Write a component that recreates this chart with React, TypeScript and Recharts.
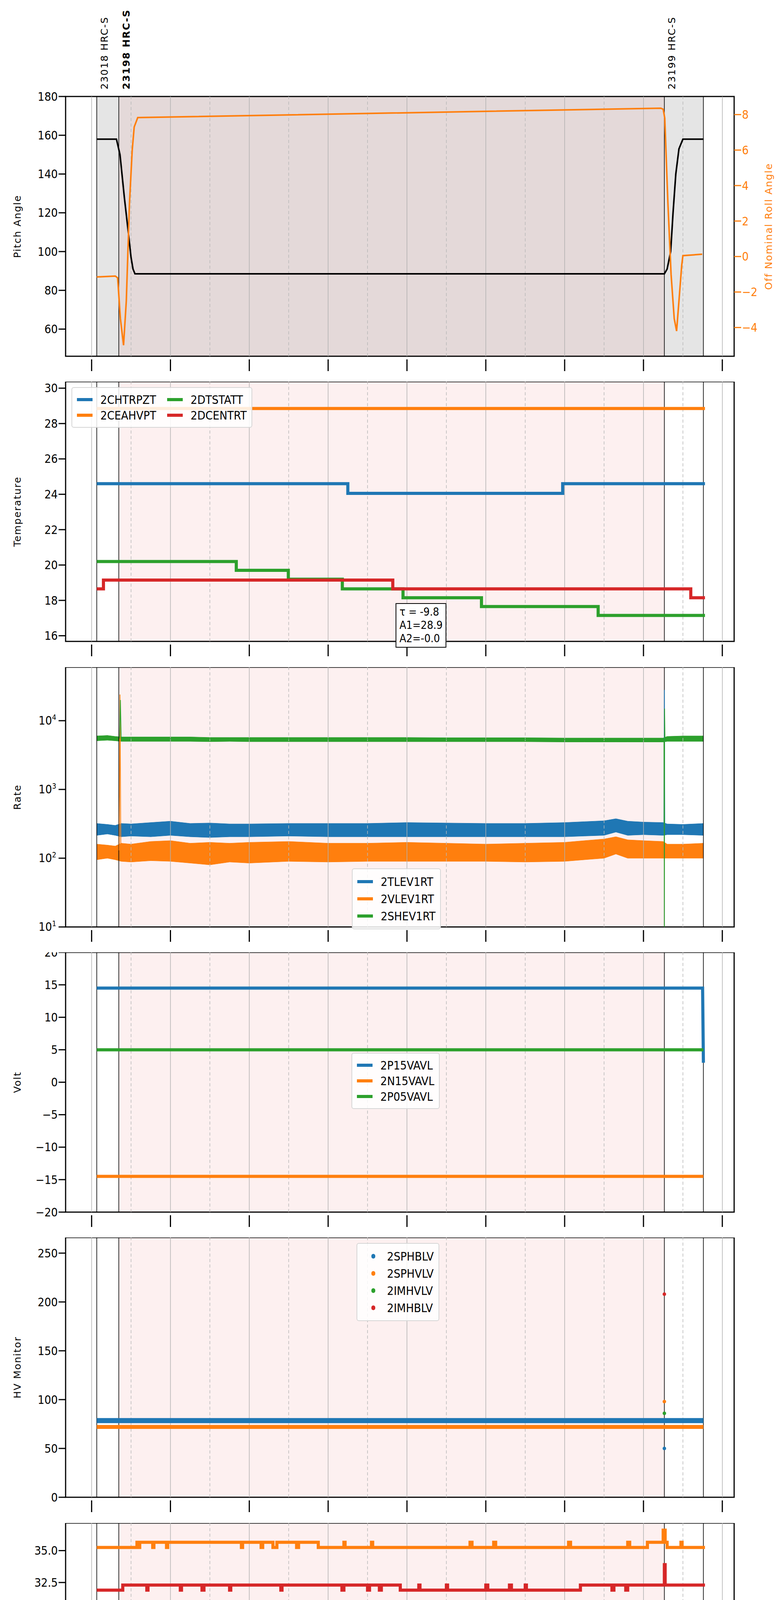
import React from 'react';
import {
  ComposedChart,
  Line,
  Area,
  Scatter,
  XAxis,
  YAxis,
  ReferenceArea,
  ReferenceLine,
} from 'recharts';

// ---- time axis (hours of 2020-03-28) ----
const hourTicks = [8, 9, 10, 11, 12, 13, 14, 15, 16, 17, 18, 19, 20, 21, 22, 23, 24];
const obsEdges = [8.13, 8.69, 22.53, 23.52];
const obsLabels = ['23018 HRC-S', '23198 HRC-S', '23199 HRC-S'];

// ---- pitch / roll ----
const pitch = [[8.13, 158], [8.63, 158], [8.72, 150], [8.83, 128], [8.93, 110], [9.0, 97], [9.05, 91], [9.1, 88.5], [22.53, 88.5], [22.6, 91], [22.69, 100], [22.75, 120], [22.82, 140], [22.9, 153], [23.0, 158], [23.52, 158]];
const roll = [[8.13, -1.15], [8.6, -1.1], [8.66, -1.2], [8.73, -3.5], [8.81, -5.0], [8.88, -2.5], [8.96, 3.0], [9.03, 6.0], [9.08, 7.3], [9.17, 7.83], [22.44, 8.36], [22.5, 8.3], [22.54, 7.8], [22.62, 3.0], [22.7, -1.0], [22.78, -3.5], [22.84, -4.2], [22.9, -2.5], [22.97, -0.5], [23.0, 0.05], [23.49, 0.13]];

// ---- temperature ----
const chtrpzt = [[8.13, 24.6], [14.45, 24.6], [14.5, 24.05], [19.9, 24.05], [19.95, 24.6], [23.56, 24.6]];
const ceahvpt = [[8.13, 28.85], [23.56, 28.85]];
const dtstatt = [[8.13, 20.2], [11.67, 19.7], [12.99, 19.2], [14.36, 18.65], [15.9, 18.15], [17.89, 17.65], [20.85, 17.15], [23.56, 17.15]];
const dcentrt = [[8.13, 18.65], [8.3, 19.15], [15.64, 18.65], [23.2, 18.15], [23.56, 18.15]];

// ---- rates (noise band low / high) ----
const rateT = [8.13, 8.4, 8.6, 8.75, 9.0, 9.5, 10.0, 10.5, 11.0, 11.5, 12.0, 13.0, 14.0, 15.0, 16.0, 17.0, 18.0, 19.0, 20.0, 20.5, 21.0, 21.3, 21.6, 22.0, 22.5, 22.6, 23.0, 23.52];
const tlevLo = [215, 225, 215, 205, 210, 205, 215, 205, 200, 205, 205, 210, 205, 205, 205, 205, 205, 205, 205, 210, 215, 240, 215, 220, 215, 220, 220, 215];
const tlevHi = [320, 310, 300, 320, 315, 330, 345, 320, 325, 315, 315, 320, 320, 320, 330, 325, 320, 320, 330, 340, 350, 375, 345, 335, 330, 315, 310, 320];
const vlevLo = [95, 100, 95, 90, 88, 92, 90, 85, 80, 88, 85, 90, 88, 90, 90, 90, 90, 88, 90, 95, 100, 115, 100, 100, 100, 100, 100, 100];
const vlevHi = [160, 155, 150, 165, 160, 175, 180, 165, 170, 165, 170, 175, 165, 165, 170, 165, 160, 165, 170, 180, 190, 205, 185, 180, 175, 160, 160, 165];
const shevLo = [5100, 5200, 5100, 5000, 5000, 5000, 5000, 5000, 4950, 5000, 4950, 4950, 4950, 4950, 4950, 4950, 4950, 4950, 4900, 4900, 4900, 4900, 4900, 4900, 4900, 5000, 5000, 5000];
const shevHi = [6000, 6100, 5900, 5800, 5800, 5800, 5800, 5800, 5700, 5700, 5700, 5700, 5700, 5700, 5700, 5650, 5650, 5650, 5600, 5600, 5600, 5600, 5600, 5600, 5600, 5900, 6000, 6000];
const vlevSpike = [[8.7, 130], [8.72, 24000], [8.74, 150]];
const shevSpike = [[8.71, 5500], [8.73, 20000], [8.75, 5500], [22.52, 5300], [22.53, 10], [22.535, 15000], [22.545, 5500]];
const tlevSpike = [[22.52, 280], [22.53, 28000], [22.54, 260]];

// ---- voltages ----
const p15 = [[8.13, 14.5], [23.5, 14.5], [23.52, 3]];
const n15 = [[8.13, -14.5], [23.52, -14.5]];
const p05 = [[8.13, 5.0], [23.52, 5.0]];

// ---- HV monitor ----
const sphblv = [[8.13, 78.5], [23.52, 78.5]];
const sphvlv = [[8.13, 72], [23.52, 72]];
const hvOutliers = [
  { name: '2SPHBLV', pts: [[22.53, 50]] },
  { name: '2SPHVLV', pts: [[22.53, 98]] },
  { name: '2IMHVLV', pts: [[22.53, 86]] },
  { name: '2IMHBLV', pts: [[22.53, 208]] },
];

// ---- detector temps ----
const spinatm = [[8.13, 20.3], [22.52, 20.3], [22.53, 16.8], [22.54, 20.3], [23.56, 20.3]];
const sphvatm = [[8.13, 35.25], [9.15, 35.65], [9.18, 35.25], [9.22, 35.65], [9.55, 35.25], [9.58, 35.65], [9.9, 35.25], [9.93, 35.65], [11.8, 35.25], [11.83, 35.65], [12.3, 35.25], [12.34, 35.65], [12.6, 35.25], [12.7, 35.65], [13.2, 35.25], [13.25, 35.65], [13.75, 35.25], [14.4, 35.65], [14.43, 35.25], [15.1, 35.65], [15.13, 35.25], [17.6, 35.65], [17.65, 35.25], [18.2, 35.65], [18.25, 35.25], [20.1, 35.65], [20.15, 35.25], [21.6, 35.65], [21.65, 35.25], [22.1, 35.65], [22.5, 36.6], [22.55, 35.65], [22.6, 35.25], [22.95, 35.65], [22.98, 35.25], [23.56, 35.25]];
const imhvatm = [[8.13, 31.9], [8.79, 32.3], [9.4, 31.9], [9.43, 32.3], [10.25, 31.9], [10.28, 32.3], [10.8, 31.9], [10.85, 32.3], [11.5, 31.9], [11.53, 32.3], [12.8, 31.9], [12.83, 32.3], [14.35, 31.9], [14.4, 32.3], [15.0, 31.9], [15.05, 32.3], [15.3, 31.9], [15.35, 32.3], [15.83, 31.9], [16.3, 32.3], [16.33, 31.9], [17.0, 32.3], [17.03, 31.9], [18.0, 32.3], [18.05, 31.9], [18.6, 32.3], [18.65, 31.9], [19.0, 32.3], [19.03, 31.9], [20.4, 32.3], [21.2, 31.9], [21.25, 32.3], [21.55, 31.9], [21.6, 32.3], [22.52, 32.3], [22.53, 33.9], [22.55, 32.3], [23.56, 32.3]];
const iminatm = [[8.13, 17.65], [8.53, 18.3], [12.28, 18.9], [13.8, 18.3], [13.84, 18.9], [14.5, 18.3], [14.55, 18.9], [14.7, 18.3], [14.75, 18.9], [15.4, 18.3], [22.52, 18.3], [22.53, 16.8], [22.54, 18.3], [23.56, 18.3]];

// ---- FEA temps ----
const fhtrmzt = [[8.13, 23.45], [8.6, 22.9], [8.62, 23.45], [9.15, 21.2], [9.18, 23.45], [9.33, 22.85], [10.06, 22.35], [10.76, 21.8], [11.3, 23.5], [11.33, 21.8], [11.52, 21.25], [12.34, 20.7], [13.13, 20.2], [13.62, 17.6], [13.65, 20.2], [14.06, 19.65], [15.14, 19.15], [16.47, 18.65], [16.55, 17.6], [16.58, 18.65], [16.9, 17.1], [16.93, 18.65], [18.12, 18.15], [20.44, 17.65], [22.56, 16.2], [22.59, 17.65], [23.45, 18.15], [23.56, 18.15]];
const fradpyt = [[8.13, 19.15], [8.76, 19.7], [9.02, 19.15], [9.2, 18.65], [9.46, 18.15], [9.84, 17.65], [10.35, 17.15], [10.93, 16.65], [11.59, 16.15], [12.3, 15.7], [13.07, 15.2], [13.97, 14.75], [14.98, 14.3], [16.23, 13.85], [17.83, 13.4], [20.06, 12.95], [22.92, 13.4], [23.17, 13.85], [23.52, 14.3], [23.56, 14.3]];
const fepratm = [[8.13, 25.4], [10.25, 24.65], [11.35, 23.9], [12.33, 23.1], [12.36, 23.9], [12.53, 23.15], [13.78, 22.4], [15.37, 21.65], [17.36, 20.95], [20.4, 20.3], [20.43, 20.95], [20.62, 20.3], [21.12, 21.0], [21.15, 20.3], [23.56, 20.3]];
const fe00atm = [[8.13, 22.65], [8.85, 23.0], [8.9, 22.4], [9.0, 23.0], [9.1, 22.65], [9.35, 22.3], [9.4, 22.65], [9.68, 22.3], [9.72, 21.1], [9.76, 22.3], [10.18, 22.0], [10.69, 21.7], [10.7, 21.05], [10.74, 21.7], [11.26, 21.35], [11.6, 20.5], [11.63, 21.35], [11.84, 21.05], [12.41, 20.75], [13.02, 20.45], [13.5, 19.9], [13.55, 20.45], [13.8, 20.15], [14.44, 19.85], [15.0, 19.0], [15.05, 19.85], [15.2, 19.55], [16.22, 19.25], [16.5, 19.85], [16.55, 19.25], [17.17, 18.95], [18.4, 18.55], [18.45, 18.95], [18.69, 18.65], [19.7, 18.1], [19.73, 18.65], [20.44, 18.4], [21.1, 17.5], [21.13, 18.4], [21.6, 17.9], [21.63, 18.4], [22.52, 18.4], [22.53, 25.4], [22.55, 18.4], [23.45, 18.65], [23.56, 18.65]];

const C = { blue: '#1f77b4', orange: '#ff7f0e', green: '#2ca02c', red: '#d62728' };
const NARROW = '"DejaVu Sans Condensed", "Liberation Sans Narrow", "DejaVu Sans", sans-serif';
const WIDE = '"DejaVu Sans", sans-serif';
const X0 = 7.34;
const X1 = 24.3;
const PLOT_L = 168;
const PLOT_R = 1880;
const PLOT_H = 665;

const pts = (a: number[][]) => a.map(([t, v]) => ({ t, v }));
const band = (lo: number[], hi: number[]) => rateT.map((t, i) => ({ t, r: [lo[i], hi[i]] }));
const minus = (v: number) => (v < 0 ? `\u2212${-v}` : `${v}`);

const XTick = (props: any) => {
  const { x, y, payload, showLabels } = props;
  const h = payload.value;
  const major = h % 2 === 0;
  const lab = `${String(h % 24).padStart(2, '0')}h`;
  if (!major && !showLabels) return null;
  return (
    <g>
      <line x1={x} x2={x} y1={y} y2={y + (major ? 30 : 14)} stroke="#000" strokeWidth={major ? 3 : 2} />
      {showLabels && (
        <text x={x} y={y + (major ? 74 : 42)} textAnchor="middle" fontFamily={NARROW} fontSize={major ? 36 : 19}>
          {lab}
        </text>
      )}
    </g>
  );
};

const LogTick = (props: any) => {
  const { x, y, payload } = props;
  const e = Math.round(Math.log10(payload.value));
  return (
    <text x={x - 4} y={y + 10} textAnchor="end" fontFamily={NARROW} fontSize={30}>
      10<tspan dy={-12} fontSize={19}>{e}</tspan>
    </text>
  );
};

const ObsLabel = (props: any) => {
  const { viewBox, text, bold } = props;
  const x = viewBox.x + 28;
  const y = viewBox.y - 18;
  return (
    <text x={x} y={y} transform={`rotate(-90 ${x} ${y})`} fontFamily={WIDE} fontSize={25} fontWeight={bold ? 'bold' : 'normal'} letterSpacing={2}>
      {text}
    </text>
  );
};

function background(dark: boolean, yDomain: number[]) {
  const els: any[] = [];
  if (dark) {
    els.push(<ReferenceArea key="g1" yAxisId="l" x1={obsEdges[0]} x2={obsEdges[1]} y1={yDomain[0]} y2={yDomain[1]} fill="#e5e5e5" fillOpacity={1} stroke="none" />);
    els.push(<ReferenceArea key="g2" yAxisId="l" x1={obsEdges[2]} x2={obsEdges[3]} y1={yDomain[0]} y2={yDomain[1]} fill="#e5e5e5" fillOpacity={1} stroke="none" />);
  }
  els.push(<ReferenceArea key="p" yAxisId="l" x1={obsEdges[1]} x2={obsEdges[2]} y1={yDomain[0]} y2={yDomain[1]} fill={dark ? '#e4d9d9' : '#fdf0f0'} fillOpacity={1} stroke="none" />);
  hourTicks.forEach((h) => {
    els.push(<ReferenceLine key={'h' + h} yAxisId="l" x={h} stroke={h % 2 === 0 ? '#b0b0b0' : '#b8b8b8'} strokeWidth={1.5} strokeDasharray={h % 2 === 0 ? undefined : '8 6'} />);
  });
  obsEdges.forEach((e, i) => {
    els.push(
      <ReferenceLine
        key={'o' + i}
        yAxisId="l"
        x={e}
        stroke="#000"
        strokeWidth={1.6}
        label={dark && i < 3 ? <ObsLabel text={obsLabels[i]} bold={i === 1} /> : undefined}
      />
    );
  });
  return els;
}

const frame = (yDomain: number[]) => (
  <ReferenceArea yAxisId="l" x1={X0} x2={X1} y1={yDomain[0]} y2={yDomain[1]} fill="none" stroke="#000" strokeWidth={3} />
);

type LegendItem = { name: string; color: string; dot?: boolean };

const LegendBox = ({ items, left, top, cols = 1, rowH = 44 }: { items: LegendItem[]; left: number; top: number; cols?: number; rowH?: number }) => (
  <div
    style={{
      position: 'absolute',
      left,
      top,
      background: 'rgba(255,255,255,0.85)',
      border: '2px solid #d6d6d6',
      borderRadius: 6,
      padding: '10px 12px',
      display: 'grid',
      gridTemplateColumns: `repeat(${cols}, auto)`,
      gridAutoFlow: cols > 1 ? 'column' : 'row',
      gridTemplateRows: cols > 1 ? `repeat(${Math.ceil(items.length / cols)}, ${rowH}px)` : undefined,
      columnGap: 28,
      fontFamily: NARROW,
      fontSize: 30,
    }}
  >
    {items.map((it) => (
      <div key={it.name} style={{ display: 'flex', alignItems: 'center', height: rowH }}>
        {it.dot ? (
          <span style={{ display: 'inline-block', width: 10, height: 12, borderRadius: 6, background: it.color, margin: '0 30px 0 24px' }} />
        ) : (
          <span style={{ display: 'inline-block', width: 40, height: 8, background: it.color, marginRight: 20 }} />
        )}
        {it.name}
      </div>
    ))}
  </div>
);

const Panel = ({ index, yDomain, yTicks, yLabel, children, dark = false, last = false, logY = false, rightAxis, fmt }: any) => {
  const top = Math.round(247 + index * 730.3);
  const marginTop = dark ? 247 : 0;
  const xAxisH = last ? 140 : 65;
  const height = marginTop + PLOT_H + xAxisH;
  return (
    <div style={{ position: 'absolute', left: 0, top: top - marginTop }}>
      <ComposedChart width={2000} height={height} margin={{ top: marginTop, right: rightAxis ? 0 : 2000 - PLOT_R, left: 0, bottom: 0 }}>
        <XAxis
          dataKey="t"
          type="number"
          domain={[X0, X1]}
          allowDataOverflow
          ticks={hourTicks}
          interval={0}
          height={xAxisH}
          axisLine={false}
          tickLine={false}
          tick={<XTick showLabels={last} />}
          label={last ? { value: '2020-03-28 (088)', position: 'insideBottom', offset: 4, fontFamily: NARROW, fontSize: 38, fill: '#000' } : undefined}
        />
        <YAxis
          yAxisId="l"
          dataKey="v"
          width={PLOT_L}
          scale={logY ? 'log' : 'auto'}
          domain={yDomain}
          allowDataOverflow
          ticks={yTicks}
          interval={0}
          axisLine={false}
          tickSize={18}
          tickLine={{ stroke: '#000', strokeWidth: 3 }}
          tickFormatter={fmt || minus}
          tick={logY ? <LogTick /> : { fontFamily: NARROW, fontSize: 30, fill: '#000' }}
          label={{ value: yLabel, angle: -90, position: 'insideLeft', offset: 44, style: { textAnchor: 'middle', fontFamily: WIDE, fontSize: 25, letterSpacing: 2, fill: '#000' } }}
        />
        {rightAxis}
        {background(dark, yDomain)}
        {children}
        {frame(yDomain)}
      </ComposedChart>
    </div>
  );
};

const stepLine = (name: string, data: number[][], color: string, w: number, yAxisId = 'l', type: any = 'stepAfter') => (
  <Line key={name} yAxisId={yAxisId} name={name} data={pts(data)} dataKey="v" type={type} stroke={color} strokeWidth={w} dot={false} isAnimationActive={false} />
);

export default function App() {
  const rollDomain = [-5.62, 9.02];
  return (
    <div style={{ position: 'relative', margin: -8, width: 2000, height: 5400, background: '#fff', overflow: 'hidden' }}>
      <Panel
        index={0}
        dark
        yDomain={[46, 180]}
        yTicks={[60, 80, 100, 120, 140, 160, 180]}
        yLabel="Pitch Angle"
        rightAxis={
          <YAxis
            yAxisId="r"
            orientation="right"
            width={120}
            domain={rollDomain}
            allowDataOverflow
            ticks={[-4, -2, 0, 2, 4, 6, 8]}
            interval={0}
            axisLine={false}
            tickSize={18}
            tickLine={{ stroke: C.orange, strokeWidth: 3 }}
            tick={{ fontFamily: NARROW, fontSize: 30, fill: C.orange }}
            tickFormatter={minus}
            label={{ value: 'Off Nominal Roll Angle', angle: -90, position: 'insideRight', offset: 32, style: { textAnchor: 'middle', fontFamily: WIDE, fontSize: 25, letterSpacing: 2, fill: C.orange } }}
          />
        }
      >
        {stepLine('pitch', pitch, '#000', 4, 'l', 'linear')}
        {stepLine('roll', roll, C.orange, 4, 'r', 'linear')}
      </Panel>

      <Panel index={1} yDomain={[15.68, 30.37]} yTicks={[16, 18, 20, 22, 24, 26, 28, 30]} yLabel="Temperature">
        {stepLine('2CHTRPZT', chtrpzt, C.blue, 8)}
        {stepLine('2CEAHVPT', ceahvpt, C.orange, 8)}
        {stepLine('2DTSTATT', dtstatt, C.green, 8)}
        {stepLine('2DCENTRT', dcentrt, C.red, 8)}
      </Panel>

      <Panel index={2} logY yDomain={[10, 60000]} yTicks={[10, 100, 1000, 10000]} yLabel="Rate">
        <Area yAxisId="l" data={band(tlevLo, tlevHi)} dataKey="r" type="linear" stroke={C.blue} strokeWidth={1} fill={C.blue} fillOpacity={1} isAnimationActive={false} />
        <Area yAxisId="l" data={band(vlevLo, vlevHi)} dataKey="r" type="linear" stroke={C.orange} strokeWidth={1} fill={C.orange} fillOpacity={1} isAnimationActive={false} />
        <Area yAxisId="l" data={band(shevLo, shevHi)} dataKey="r" type="linear" stroke={C.green} strokeWidth={1} fill={C.green} fillOpacity={1} isAnimationActive={false} />
        {stepLine('vs', vlevSpike, C.orange, 2, 'l', 'linear')}
        {stepLine('ts', tlevSpike, C.blue, 2, 'l', 'linear')}
        {stepLine('ss', shevSpike, C.green, 2, 'l', 'linear')}
      </Panel>

      <Panel index={3} yDomain={[-20, 20]} yTicks={[-20, -15, -10, -5, 0, 5, 10, 15, 20]} yLabel="Volt">
        {stepLine('2P15VAVL', p15, C.blue, 8, 'l', 'linear')}
        {stepLine('2N15VAVL', n15, C.orange, 8, 'l', 'linear')}
        {stepLine('2P05VAVL', p05, C.green, 8, 'l', 'linear')}
      </Panel>

      <Panel index={4} yDomain={[0, 266]} yTicks={[0, 50, 100, 150, 200, 250]} yLabel="HV Monitor">
        {stepLine('2SPHBLV', sphblv, C.blue, 13, 'l', 'linear')}
        {stepLine('2SPHVLV', sphvlv, C.orange, 10, 'l', 'linear')}
        {hvOutliers.map((o, i) => (
          <Scatter key={o.name} yAxisId="l" data={pts(o.pts)} dataKey="v" fill={[C.blue, C.orange, C.green, C.red][i]} shape="circle" isAnimationActive={false} />
        ))}
      </Panel>

      <Panel index={5} yDomain={[16.8, 37.16]} yTicks={[17.5, 20, 22.5, 25, 27.5, 30, 32.5, 35]} yLabel="Detector Temp" fmt={(v: number) => v.toFixed(1)}>
        {stepLine('2SPINATM', spinatm, C.blue, 8)}
        {stepLine('2SPHVATM', sphvatm, C.orange, 8)}
        {stepLine('2IMINATM', iminatm, C.green, 8)}
        {stepLine('2IMHVATM', imhvatm, C.red, 8)}
      </Panel>

      <Panel index={6} last yDomain={[11.9, 25.36]} yTicks={[12, 14, 16, 18, 20, 22, 24]} yLabel="FEA Temp">
        {stepLine('2FHTRMZT', fhtrmzt, C.blue, 7)}
        {stepLine('2FRADPYT', fradpyt, C.orange, 7)}
        {stepLine('2FEPRATM', fepratm, C.green, 7)}
        {stepLine('2FE00ATM', fe00atm, C.red, 7)}
      </Panel>

      <LegendBox
        left={183}
        top={991}
        cols={2}
        rowH={40}
        items={[
          { name: '2CHTRPZT', color: C.blue },
          { name: '2CEAHVPT', color: C.orange },
          { name: '2DTSTATT', color: C.green },
          { name: '2DCENTRT', color: C.red },
        ]}
      />
      <div
        style={{
          position: 'absolute',
          left: 1013,
          top: 1544,
          border: '2.5px solid #000',
          background: '#fff',
          padding: '4px 8px',
          fontFamily: NARROW,
          fontSize: 28,
          lineHeight: '34px',
        }}
      >
        <div>τ = -9.8</div>
        <div>A1=28.9</div>
        <div>A2=-0.0</div>
      </div>
      <LegendBox
        left={901}
        top={2223}
        items={[
          { name: '2TLEV1RT', color: C.blue },
          { name: '2VLEV1RT', color: C.orange },
          { name: '2SHEV1RT', color: C.green },
        ]}
      />
      <LegendBox
        left={900}
        top={2695}
        rowH={40}
        items={[
          { name: '2P15VAVL', color: C.blue },
          { name: '2N15VAVL', color: C.orange },
          { name: '2P05VAVL', color: C.green },
        ]}
      />
      <LegendBox
        left={913}
        top={3182}
        items={[
          { name: '2SPHBLV', color: C.blue, dot: true },
          { name: '2SPHVLV', color: C.orange, dot: true },
          { name: '2IMHVLV', color: C.green, dot: true },
          { name: '2IMHBLV', color: C.red, dot: true },
        ]}
      />
      <LegendBox
        left={901}
        top={4144}
        items={[
          { name: '2SPINATM', color: C.blue },
          { name: '2SPHVATM', color: C.orange },
          { name: '2IMINATM', color: C.green },
          { name: '2IMHVATM', color: C.red },
        ]}
      />
      <LegendBox
        left={183}
        top={5103}
        items={[
          { name: '2FHTRMZT', color: C.blue },
          { name: '2FRADPYT', color: C.orange },
          { name: '2FEPRATM', color: C.green },
          { name: '2FE00ATM', color: C.red },
        ]}
      />
    </div>
  );
}
